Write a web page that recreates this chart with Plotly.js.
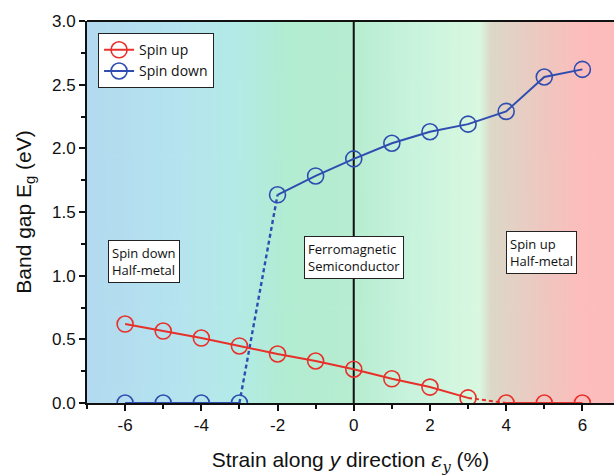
<!DOCTYPE html>
<html>
<head>
<meta charset="utf-8">
<script src="https://cdn.plot.ly/plotly-3.0.1.min.js"></script>
<style>
  html, body { margin: 0; padding: 0; background: #fff; }
  #chart { width: 614px; height: 476px; }
</style>
</head>
<body>
<div id="chart"></div>
<script>
// Strain values (%) along y
const strain = [-6, -5, -4, -3, -2, -1, 0, 1, 2, 3, 4, 5, 6];
// Band gap (eV) per spin channel
const spinUp   = [0.62, 0.565, 0.51, 0.448, 0.385, 0.33, 0.265, 0.19, 0.125, 0.04, 0, 0, 0];
const spinDown = [0, 0, 0, 0, 1.635, 1.783, 1.917, 2.04, 2.13, 2.19, 2.29, 2.56, 2.62];

const xTickVals = [-6, -4, -2, 0, 2, 4, 6];
const xTickText = ['-6', '-4', '-2', '0', '2', '4', '6'];
const yTickVals = [0, 0.5, 1.0, 1.5, 2.0, 2.5, 3.0];
const yTickText = ['0.0', '0.5', '1.0', '1.5', '2.0', '2.5', '3.0'];

// Region labels
const regionText = ['Spin down<br>Half-metal', 'Ferromagnetic<br>Semiconductor', 'Spin up<br>Half-metal'];
const regionX = [-5.5, 0.0, 4.92];
const regionY = [1.115, 1.14, 1.18];

const RED = '#e8302a';
const BLUE = '#2f4db0';
const X_RANGE = [-7, 6.83];

// Background colour stops across the plot (in strain units)
const bgStops = [
  [-7.0, '#b3daf0'],
  [-4.5, '#b5e4ef'],
  [-3.0, '#b3ebe6'],
  [-1.8, '#b2ecd2'],
  [0.0,  '#b7edd1'],
  [1.5,  '#c8f3dd'],
  [3.3,  '#d9f8e0'],
  [3.6,  '#dcd8c8'],
  [5.0,  '#efc7c0'],
  [6.0,  '#fdbdbc'],
  [6.83, '#fdbcbc']
];

function backgroundImage() {
  const c = document.createElement('canvas');
  c.width = 600; c.height = 10;
  const ctx = c.getContext('2d');
  const g = ctx.createLinearGradient(0, 0, c.width, 0);
  const span = X_RANGE[1] - X_RANGE[0];
  bgStops.forEach(([x, col]) => g.addColorStop((x - X_RANGE[0]) / span, col));
  ctx.fillStyle = g;
  ctx.fillRect(0, 0, c.width, c.height);
  return c.toDataURL('image/png');
}

// Split a series into solid and dashed pieces between indices
function seg(xs, ys, i0, i1) {
  return { x: xs.slice(i0, i1 + 1), y: ys.slice(i0, i1 + 1) };
}

const upA = seg(strain, spinUp, 0, 9);
const upGap = seg(strain, spinUp, 9, 10);
const upB = seg(strain, spinUp, 10, 12);
const dnA = seg(strain, spinDown, 0, 3);
const dnGap = seg(strain, spinDown, 3, 4);
const dnB = seg(strain, spinDown, 4, 12);

const markerUp = { symbol: 'circle-open', size: 16, color: RED, line: { width: 1.6, color: RED } };
const markerDn = { symbol: 'circle-open', size: 16, color: BLUE, line: { width: 1.6, color: BLUE } };

const traces = [
  { x: upGap.x, y: upGap.y, mode: 'lines', line: { color: RED, width: 2, dash: '4px,3px' }, showlegend: false, hoverinfo: 'skip' },
  { x: dnGap.x, y: dnGap.y, mode: 'lines', line: { color: BLUE, width: 2.4, dash: '4px,3px' }, showlegend: false, hoverinfo: 'skip' },
  { x: upA.x, y: upA.y, mode: 'lines+markers', name: 'Spin up', legendgroup: 'up',
    line: { color: RED, width: 2 }, marker: markerUp },
  { x: upB.x, y: upB.y, mode: 'lines+markers', name: 'Spin up', legendgroup: 'up', showlegend: false,
    line: { color: RED, width: 2 }, marker: markerUp },
  { x: dnA.x, y: dnA.y, mode: 'lines+markers', name: 'Spin down', legendgroup: 'dn', showlegend: false,
    line: { color: BLUE, width: 2 }, marker: markerDn },
  { x: dnB.x, y: dnB.y, mode: 'lines+markers', name: 'Spin down', legendgroup: 'dn',
    line: { color: BLUE, width: 2 }, marker: markerDn }
];

const annotations = regionText.map((t, i) => ({
  x: regionX[i], y: regionY[i], xref: 'x', yref: 'y',
  text: t, showarrow: false, align: 'left',
  font: { family: 'Open Sans, sans-serif', size: 13, color: '#111' },
  bgcolor: '#ffffff', bordercolor: '#222', borderwidth: 1, borderpad: 3
}));

const layout = {
  width: 614, height: 476,
  margin: { l: 87, r: 0, t: 21, b: 73 },
  paper_bgcolor: '#ffffff',
  plot_bgcolor: 'rgba(0,0,0,0)',
  font: { family: 'Liberation Sans, Arial, sans-serif', color: '#111' },
  showlegend: true,
  legend: {
    x: 0.021, y: 0.968, xanchor: 'left', yanchor: 'top',
    bgcolor: '#ffffff', bordercolor: '#222', borderwidth: 1,
    font: { family: 'Open Sans, sans-serif', size: 14, color: '#111' },
    tracegroupgap: 0, itemwidth: 30
  },
  xaxis: {
    range: X_RANGE, tickmode: 'array', tickvals: xTickVals, ticktext: xTickText,
    ticks: 'outside', ticklen: 6, tickwidth: 2, tickcolor: '#111',
    minor: { dtick: 1, ticks: 'outside', ticklen: 4, tickwidth: 2, tickcolor: '#111' },
    showgrid: false, zeroline: false,
    showline: true, linecolor: '#111', linewidth: 2, mirror: false,
    tickfont: { size: 17, color: '#111' },
    title: { text: 'Strain along <i>y</i> direction <span style="font-family:\'DejaVu Serif\'"><i>ε<sub>y</sub></i></span> (%)',
             font: { size: 21, color: '#111' }, standoff: 18 }
  },
  yaxis: {
    range: [0, 3], tickmode: 'array', tickvals: yTickVals, ticktext: yTickText,
    ticks: 'outside', ticklen: 6, tickwidth: 2, tickcolor: '#111',
    minor: { dtick: 0.25, ticks: 'outside', ticklen: 4, tickwidth: 2, tickcolor: '#111' },
    showgrid: false, zeroline: false,
    showline: true, linecolor: '#111', linewidth: 2,
    tickfont: { size: 17, color: '#111' },
    title: { text: 'Band gap E<sub>g</sub> (eV)', font: { size: 21, color: '#111' }, standoff: 15 }
  },
  shapes: [
    // top frame line
    { type: 'line', xref: 'paper', yref: 'paper', x0: 0, x1: 1, y0: 1, y1: 1,
      line: { color: '#111', width: 2 } },
    // strain = 0 divider
    { type: 'line', xref: 'x', yref: 'paper', x0: 0, x1: 0, y0: 0, y1: 1,
      line: { color: '#111', width: 2 }, layer: 'below' }
  ],
  images: [{
    source: backgroundImage(), xref: 'paper', yref: 'paper',
    x: 0, y: 1, sizex: 1, sizey: 1, sizing: 'stretch', layer: 'below',
    xanchor: 'left', yanchor: 'top'
  }],
  annotations: annotations
};

Plotly.newPlot('chart', traces, layout, { displayModeBar: false, staticPlot: true });
</script>
</body>
</html>
